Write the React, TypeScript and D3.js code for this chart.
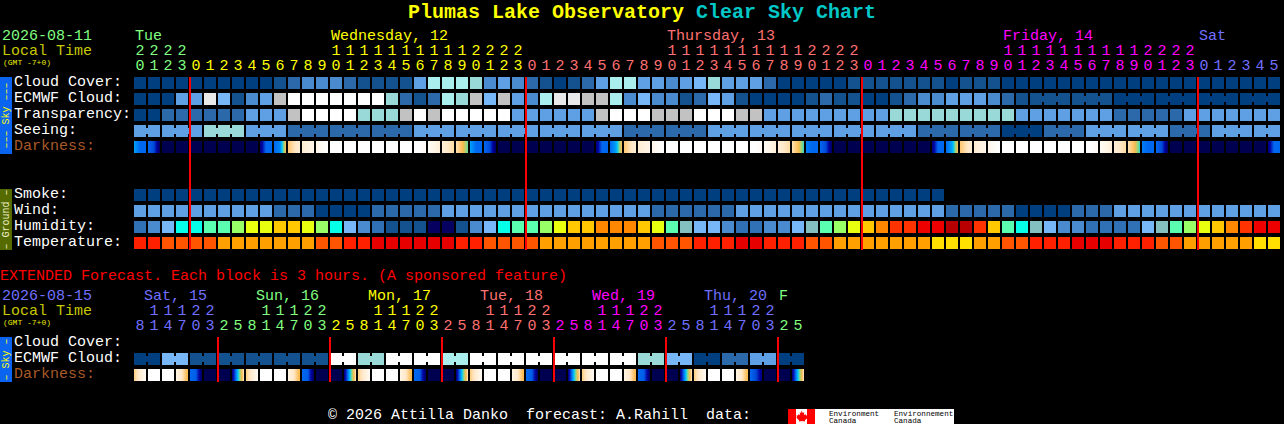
import { useEffect, useRef } from "react"
import * as d3 from "d3"

// Forecast hour of each column
const hours = [
  20, 21, 22, 23,
  0, 1, 2, 3, 4, 5, 6, 7, 8, 9, 10, 11, 12, 13, 14, 15, 16, 17, 18, 19, 20, 21, 22, 23,
  0, 1, 2, 3, 4, 5, 6, 7, 8, 9, 10, 11, 12, 13, 14, 15, 16, 17, 18, 19, 20, 21, 22, 23,
  0, 1, 2, 3, 4, 5, 6, 7, 8, 9, 10, 11, 12, 13, 14, 15, 16, 17, 18, 19, 20, 21, 22, 23,
  0, 1, 2, 3, 4, 5,
]
const extHours = [
  8, 11, 14, 17, 20, 23,
  2, 5, 8, 11, 14, 17, 20, 23,
  2, 5, 8, 11, 14, 17, 20, 23,
  2, 5, 8, 11, 14, 17, 20, 23,
  2, 5, 8, 11, 14, 17, 20, 23,
  2, 5, 8, 11, 14, 17, 20, 23,
  2, 5,
]
const dayNames = ["Tue", "Wednesday, 12", "Thursday, 13", "Friday, 14", "Sat"]
const extDayNames = ["Sat, 15", "Sun, 16", "Mon, 17", "Tue, 18", "Wed, 19", "Thu, 20", "F"]
const dayColors = ["#80ff80", "#ffff00", "#ff7070", "#ff00ff", "#7070ff"]
const extDayColors = ["#7070ff", "#80ff80", "#ffff00", "#ff7070", "#ff00ff", "#7070ff", "#80ff80"]

// Sky rows, 0 (clear, dark blue) to 10 (white)
const cloudCover = [
  0, 0, 0, 0, 0, 0, 0, 0, 0, 0,
  1, 2, 3, 3, 3, 2, 1, 1, 1, 1,
  4, 7, 7, 7, 6, 3, 4, 3, 2, 1,
  0, 1, 2, 4, 7, 7, 4, 4, 3, 4,
  5, 6, 4, 4, 4, 2, 0, 0, 0, 0,
  0, 1, 1, 1, 1, 1, 1, 1, 0, 1,
  1, 1, 0, 0, 0, 0, 0, 0, 0, 0,
  0, 0, 0, 0, 0, 0, 0, 0, 0, 0, 0, 0,
]
const ecmwfCloud = [
  0, 0, 0, 4, 4, 9, 5, 1, 3, 4,
  8, 10, 10, 10, 10, 10, 10, 10, 6, 2,
  1, 2, 7, 6, 8, 5, 8, 4, 3, 7,
  9, 9, 8, 8, 7, 3, 5, 3, 3, 1,
  2, 5, 4, 1, 0, 0, 0, 0, 1, 2,
  1, 1, 0, 0, 1, 2, 3, 3, 4, 4,
  4, 3, 2, 1, 1, 1, 1, 1, 1, 1,
  0, 0, 0, 0, 0, 0, 0, 0, 0, 0, 0, 0,
]
const transparency = [
  0, 0, 2, 2, 2, 2, 2, 2, 4, 4,
  4, 8, 10, 10, 10, 10, 6, 6, 6, 8,
  10, 8, 10, 10, 10, 10, 10, 4, 4, 4,
  4, 4, 4, 8, 10, 10, 10, 8, 8, 8,
  10, 10, 10, 8, 8, 4, 4, 4, 4, 4,
  4, 4, 4, 4, 6, 6, 6, 6, 6, 6,
  6, 6, 6, 4, 4, 4, 4, 4, 4, 4,
  2, 2, 2, 2, 2, 4, 4, 4, 4, 4, 4, 4,
]
const seeing = [
  4, 4, 4, 4, 4, 6, 6, 6, 4, 4,
  4, 2, 2, 2, 2, 2, 2, 2, 2, 2,
  4, 4, 4, 4, 4, 4, 4, 4, 4, 4,
  4, 4, 4, 4, 4, 2, 2, 2, 2, 2,
  2, 4, 4, 4, 4, 4, 4, 4, 4, 4,
  4, 4, 4, 4, 4, 4, 2, 2, 2, 2,
  2, 2, 0, 0, 0, 2, 2, 2, 4, 4,
  4, 4, 4, 4, 2, 2, 2, 4, 4, 4, 4, 4,
]
// Darkness at start, middle and end of each column, 0 (night) to 6 (day)
const darkness = [
  [2.6, 2, 2], [2, 1.7, 0.2], [0, 0, 0], [0, 0, 0], [0, 0, 0], [0, 0, 0], [0, 0, 0], [0, 0, 0], [0, 0, 0], [0.5, 2, 2],
  [2, 2.3, 4.4], [4.5, 4.9, 5.2], [5.2, 5.4, 5.6], [5.6, 5.8, 6], [6, 6, 6], [6, 6, 6], [6, 6, 6], [6, 6, 6], [6, 6, 6], [6, 6, 6],
  [6, 6, 5.8], [5.8, 5.6, 5.3], [5.3, 5, 4.8], [4.9, 4.4, 3.4], [2.6, 2, 2], [2, 1.7, 0.2], [0, 0, 0], [0, 0, 0], [0, 0, 0], [0, 0, 0],
  [0, 0, 0], [0, 0, 0], [0, 0, 0], [0.5, 2, 2], [2, 2.6, 4.4], [4.5, 4.9, 5.2], [5.2, 5.4, 5.6], [5.6, 5.8, 6], [6, 6, 6], [6, 6, 6],
  [6, 6, 6], [6, 6, 6], [6, 6, 6], [6, 6, 6], [6, 6, 5.8], [5.8, 5.6, 5.3], [5.3, 5, 4.8], [4.9, 4.4, 3.2], [2.2, 2, 2], [2, 1.7, 0.2],
  [0, 0, 0], [0, 0, 0], [0, 0, 0], [0, 0, 0], [0, 0, 0], [0, 0, 0], [0, 0, 0], [0.5, 2, 2], [2, 2.6, 4.4], [4.5, 4.9, 5.2],
  [5.2, 5.4, 5.6], [5.6, 5.8, 6], [6, 6, 6], [6, 6, 6], [6, 6, 6], [6, 6, 6], [6, 6, 6], [6, 6, 6], [6, 6, 5.8], [5.8, 5.6, 5.3],
  [5.3, 5, 4.8], [4.9, 4.4, 3.2], [2.2, 2, 2], [2, 1.7, 0.2], [0, 0, 0], [0, 0, 0], [0, 0, 0], [0, 0, 0], [0, 0, 0], [0, 0, 0],
  [0, 0, 0], [0.5, 2, 2],
]

// Ground rows
const smoke = [
  0, 0, 0, 0, 0, 0, 0, 0, 0, 0, 0, 0, 0, 0, 0, 0, 0, 0, 0, 0,
  0, 0, 0, 0, 0, 0, 0, 0, 0, 0, 0, 0, 0, 0, 0, 0, 0, 0, 0, 0,
  0, 0, 0, 0, 0, 0, 0, 0, 0, 0, 0, 0, 0, 0, 0, 0, 0, 0,
]
const wind = [
  4, 4, 4, 4, 4, 4, 4, 4, 4, 4,
  2, 2, 2, 0, 0, 0, 0, 2, 2, 2,
  2, 2, 4, 4, 4, 4, 4, 4, 4, 4,
  4, 4, 4, 4, 4, 4, 4, 2, 2, 2,
  2, 2, 2, 4, 4, 4, 4, 4, 4, 4,
  4, 4, 4, 4, 4, 4, 4, 4, 2, 2,
  2, 2, 2, 0, 0, 0, 0, 2, 2, 2,
  4, 4, 4, 4, 4, 4, 4, 4, 4, 4, 4, 4,
]
const humidity = [
  2, 3, 4, 6, 6, 7, 7, 8, 9, 9,
  10, 10, 9, 8, 6, 4, 3, 2, 1, 1,
  1, 0, 0, 1, 3, 4, 6, 7, 7, 8,
  9, 10, 10, 11, 11, 11, 10, 9, 7, 5,
  4, 4, 3, 2, 2, 3, 3, 4, 5, 7,
  8, 9, 10, 11, 12, 12, 13, 13, 14, 14,
  12, 10, 7, 6, 5, 4, 3, 3, 2, 2,
  2, 2, 4, 5, 7, 8, 9, 10, 11, 12, 13, 13,
]
const temperature = [
  1, 1, 2, 2, 2, 2, 3, 3, 3, 3,
  3, 3, 3, 2, 2, 1, 1, 0, 0, 0,
  0, 0, 0, 1, 1, 2, 2, 2, 2, 3,
  3, 3, 3, 3, 3, 3, 3, 2, 2, 2,
  1, 1, 1, 0, 0, 1, 1, 1, 2, 2,
  3, 3, 3, 3, 3, 3, 3, 4, 4, 4,
  3, 3, 2, 2, 1, 1, 1, 0, 0, 0,
  1, 1, 1, 2, 2, 3, 3, 3, 3, 3, 4, 4,
]

// Extended forecast
const extEcmwf = [
  0, 0, 5, 5, 1, 1, 1, 1, 1, 1, 1, 1, 1, 1, 10, 10, 6, 6, 10, 10, 10, 10, 7, 7,
  10, 10, 10, 10, 10, 10, 10, 10, 10, 10, 10, 10, 6, 6, 5, 5, 0, 0, 2, 2, 4, 4, 0, 0,
]
const extDarkness = [
  [4.6, 5.2, 5.8], [6, 6, 6], [6, 6, 6], [5.5, 5, 4.2], [2, 1.9, 0.2], [0, 0, 0], [0, 0, 0], [0.5, 3, 5],
  [4.6, 5.2, 5.8], [6, 6, 6], [6, 6, 6], [5.5, 5, 4.2], [2, 1.9, 0.2], [0, 0, 0], [0, 0, 0], [0.5, 3, 5],
  [4.6, 5.2, 5.8], [6, 6, 6], [6, 6, 6], [5.5, 5, 4.2], [2, 1.9, 0.2], [0, 0, 0], [0, 0, 0], [0.5, 3, 5],
  [4.6, 5.2, 5.8], [6, 6, 6], [6, 6, 6], [5.5, 5, 4.2], [2, 1.9, 0.2], [0, 0, 0], [0, 0, 0], [0.5, 3, 5],
  [4.6, 5.2, 5.8], [6, 6, 6], [6, 6, 6], [5.5, 5, 4.2], [2, 1.9, 0.2], [0, 0, 0], [0, 0, 0], [0.5, 3, 5],
  [4.6, 5.2, 5.8], [6, 6, 6], [6, 6, 6], [5.5, 5, 4.2], [2, 1.7, 0.6], [0, 0, 0], [0, 0, 0], [0.5, 3, 5],
]

const skyColors = ["#003f7f", "#13528f", "#2b69ab", "#4a8bd0", "#5f9fe3", "#77b6f7", "#99d9d8", "#aaeeee", "#c2c2c2", "#e9e9e9", "#ffffff"]
const humidityColors = [
  "#060060", "#13528f", "#3070b5", "#4a8bd0", "#77b6f7", "#85c0c0", "#05ffe8", "#5affb0",
  "#99ff66", "#e8ff10", "#ffc800", "#ff8800", "#ff3300", "#ee0000", "#b80000",
]
const temperatureColors = ["#e60000", "#ff2000", "#ff5500", "#ffa000", "#ffe000"]

const mono = "'Liberation Mono', monospace"
const darknessColor = d3
  .scaleLinear<string>()
  .domain([0, 1, 2, 3, 3.6, 4.3, 5, 6])
  .range(["#000050", "#0000a0", "#0068f0", "#00c8ff", "#90d880", "#ffb848", "#ffe8c8", "#ffffff"])

// Day number of each column, starts a new day when the hour wraps
function dayIndex(hs: number[]) {
  let day = 0
  return hs.map((h, i) => {
    if (i > 0 && h < hs[i - 1]) day += 1
    return day
  })
}

export default function App() {
  const svgRef = useRef<SVGSVGElement>(null)

  useEffect(() => {
    if (!svgRef.current) return
    document.body.style.margin = "0"
    document.body.style.background = "#000"

    const svg = d3.select(svgRef.current)
    svg.selectAll("*").remove()
    const defs = svg.append("defs")

    const text = (x: number, y: number, s: string, fill: string, size = 15, weight = "normal") =>
      svg
        .append("text")
        .attr("x", x)
        .attr("y", y)
        .attr("fill", fill)
        .attr("font-family", mono)
        .attr("font-size", size)
        .attr("font-weight", weight)
        .style("white-space", "pre")
        .text(s)

    // Cells, optionally joined inside a forecast block
    const drawRow = (
      x: d3.ScaleBand<number>,
      y: number,
      h: number,
      values: number[],
      palette: string[],
      sameBlock?: (i: number) => boolean,
    ) => {
      const g = svg.append("g").attr("shape-rendering", "crispEdges")
      g.selectAll("rect.cell")
        .data(values)
        .enter()
        .append("rect")
        .attr("class", "cell")
        .attr("x", (_, i) => x(i) as number)
        .attr("y", y)
        .attr("width", x.bandwidth())
        .attr("height", h)
        .attr("fill", (d) => palette[d])
      if (!sameBlock) return
      // little bridge between neighbours of the same block
      g.selectAll("rect.bridge")
        .data(values.map((v, i) => ({ v, i })).filter((d) => d.i < values.length - 1 && sameBlock(d.i)))
        .enter()
        .append("rect")
        .attr("class", "bridge")
        .attr("x", (d) => (x(d.i) as number) + x.bandwidth())
        .attr("y", y + 3)
        .attr("width", x.step() - x.bandwidth())
        .attr("height", h - 6)
        .attr("fill", (d) => palette[d.v])
    }

    const drawDarkness = (x: d3.ScaleBand<number>, y: number, h: number, values: number[][], id: string) => {
      const grads = defs
        .selectAll(`linearGradient.${id}`)
        .data(values)
        .enter()
        .append("linearGradient")
        .attr("class", id)
        .attr("id", (_, i) => `${id}-${i}`)
      grads
        .selectAll("stop")
        .data((d) => {
          const v = d3.scaleLinear().domain([0, 0.5, 1]).range(d)
          return d3.range(0, 1.001, 1 / 12).map((t) => ({ t, c: darknessColor(v(t)) }))
        })
        .enter()
        .append("stop")
        .attr("offset", (d) => d.t)
        .attr("stop-color", (d) => d.c)
      svg
        .append("g")
        .attr("shape-rendering", "crispEdges")
        .selectAll("rect")
        .data(values)
        .enter()
        .append("rect")
        .attr("x", (_, i) => x(i) as number)
        .attr("y", y)
        .attr("width", x.bandwidth())
        .attr("height", h)
        .attr("fill", (_, i) => `url(#${id}-${i})`)
    }

    const drawHours = (x: d3.ScaleBand<number>, hs: number[], days: number[], palette: string[], y: number) => {
      hs.forEach((h, i) => {
        const cx = (x(i) as number) + x.bandwidth() / 2
        const fill = palette[days[i]]
        if (h >= 10) text(cx, y - 15, String(Math.floor(h / 10)), fill).attr("text-anchor", "middle")
        text(cx, y, String(h % 10), fill).attr("text-anchor", "middle")
      })
    }

    const drawRedLines = (x: d3.ScaleBand<number>, days: number[], y0: number, y1: number) => {
      const starts = days.map((d, i) => (i > 0 && d !== days[i - 1] ? i : -1)).filter((i) => i >= 0)
      svg
        .append("g")
        .attr("shape-rendering", "crispEdges")
        .selectAll("rect")
        .data(starts)
        .enter()
        .append("rect")
        .attr("x", (i) => (x(i) as number) - 1)
        .attr("y", y0)
        .attr("width", 2)
        .attr("height", y1 - y0)
        .attr("fill", "#ff0000")
    }

    const sideBar = (y0: number, y1: number, fill: string, label: string, color: string) => {
      svg.append("rect").attr("x", 0).attr("y", y0).attr("width", 12).attr("height", y1 - y0).attr("fill", fill)
      text(0, 0, label, color, 10)
        .attr("x", null)
        .attr("y", null)
        .attr("text-anchor", "middle")
        .attr("transform", `translate(9,${(y0 + y1) / 2}) rotate(-90)`)
    }

    // Title
    text(408, 18, "Plumas Lake Observatory", "#ffff00", 20, "bold")
    text(696, 18, "Clear Sky Chart", "#00c8c8", 20, "bold")

    // Main chart
    const x = d3.scaleBand<number>().domain(d3.range(hours.length)).range([134, 1280]).paddingInner(1 / 7)
    const days = dayIndex(hours)
    const rowH = 12

    text(2, 40, "2026-08-11", dayColors[0])
    text(2, 55, "Local Time", "#c8c800")
    text(3, 65, "(GMT -7+0)", "#e8e800", 8)
    ;[0, 14, 38, 62, 76].forEach((cell, k) => text((x(cell) as number) + 1, 40, dayNames[k], dayColors[k]))
    drawHours(x, hours, days, dayColors, 70)

    const skyLabels = ["Cloud Cover:", "ECMWF Cloud:", "Transparency:", "Seeing:", "Darkness:"]
    const skyY = d3.scaleBand<string>().domain(skyLabels).range([77, 153]).paddingInner(0.25)
    const groundLabels = ["Smoke:", "Wind:", "Humidity:", "Temperature:"]
    const groundY = d3.scaleBand<string>().domain(groundLabels).range([189, 249]).paddingInner(0.25)

    sideBar(77, 154, "#0a64f0", "––– Sky –––", "#ffff00")
    sideBar(189, 250, "#556b00", "– Ground –", "#f0f0c8")

    skyLabels.forEach((l) =>
      text(14, (skyY(l) as number) + 9, l, l === "Darkness:" ? "#a85a28" : "#ffffff"),
    )
    groundLabels.forEach((l) => text(14, (groundY(l) as number) + 9, l, "#ffffff"))

    drawRow(x, skyY("Cloud Cover:") as number, rowH, cloudCover, skyColors)
    drawRow(x, skyY("ECMWF Cloud:") as number, rowH, ecmwfCloud, skyColors, (i) => i >= 64 && (i - 64) % 3 !== 2)
    drawRow(x, skyY("Transparency:") as number, rowH, transparency, skyColors)
    drawRow(x, skyY("Seeing:") as number, rowH, seeing, skyColors, (i) => i % 3 !== 1)
    drawDarkness(x, skyY("Darkness:") as number, rowH, darkness, "dark")

    drawRow(x, groundY("Smoke:") as number, rowH, smoke, skyColors)
    drawRow(x, groundY("Wind:") as number, rowH, wind, skyColors)
    drawRow(x, groundY("Humidity:") as number, rowH, humidity, humidityColors)
    drawRow(x, groundY("Temperature:") as number, rowH, temperature, temperatureColors)

    drawRedLines(x, days, 77, 250)

    // Extended forecast
    text(0, 280, "EXTENDED Forecast. Each block is 3 hours. (A sponsored feature)", "#ff0000")

    const xExt = d3.scaleBand<number>().domain(d3.range(extHours.length)).range([134, 804]).paddingInner(1 / 7)
    const extDays = dayIndex(extHours)

    text(2, 300, "2026-08-15", extDayColors[0])
    text(2, 315, "Local Time", "#c8c800")
    text(3, 325, "(GMT -7+0)", "#e8e800", 8)
    extDayNames.forEach((name, k) => {
      const last = k === extDayNames.length - 1
      text(last ? (xExt(46) as number) + 1 : (xExt(k * 8) as number) + 10, 300, name, extDayColors[k])
    })
    drawHours(xExt, extHours, extDays, extDayColors, 330)

    const extLabels = ["Cloud Cover:", "ECMWF Cloud:", "Darkness:"]
    const extY = d3.scaleBand<string>().domain(extLabels).range([337, 381]).paddingInner(0.25)
    sideBar(337, 382, "#0a64f0", "– Sky –", "#ffff00")
    extLabels.forEach((l) => text(14, (extY(l) as number) + 9, l, l === "Darkness:" ? "#a85a28" : "#ffffff"))

    drawRow(xExt, extY("ECMWF Cloud:") as number, rowH, extEcmwf, skyColors, (i) => i % 2 === 0)
    drawDarkness(xExt, extY("Darkness:") as number, rowH, extDarkness, "extdark")
    drawRedLines(xExt, extDays, 337, 382)

    // Footer and logo
    text(328, 419, "© 2026 Attilla Danko  forecast: A.Rahill  data:", "#ffffff")
    svg.append("rect").attr("x", 788).attr("y", 409).attr("width", 166).attr("height", 15).attr("fill", "#ffffff")
    svg.append("rect").attr("x", 788).attr("y", 409).attr("width", 8).attr("height", 15).attr("fill", "#ff0000")
    svg.append("rect").attr("x", 807).attr("y", 409).attr("width", 8).attr("height", 15).attr("fill", "#ff0000")
    svg
      .append("path")
      .attr("d", "M801.5 410.5l1.3 2.4 1.5-.7-.5 3 1.7-1.2.4 1.4 1.6-.2-.5 2 .8.6-3 2.4.3 1.2-3-.4v2h-.2v-2l-3 .4.3-1.2-3-2.4.8-.6-.5-2 1.6.2.4-1.4 1.7 1.2-.5-3 1.5.7z")
      .attr("fill", "#ff0000")
    text(829, 416, "Environment", "#000000", 7.6)
    text(829, 423, "Canada", "#000000", 7.6)
    text(894, 416, "Environnement", "#000000", 7.6)
    text(894, 423, "Canada", "#000000", 7.6)
  }, [])

  return (
    <svg
      ref={svgRef}
      width={1284}
      height={424}
      style={{ display: "block", position: "absolute", left: 0, top: 0, background: "#000" }}
    />
  )
}
